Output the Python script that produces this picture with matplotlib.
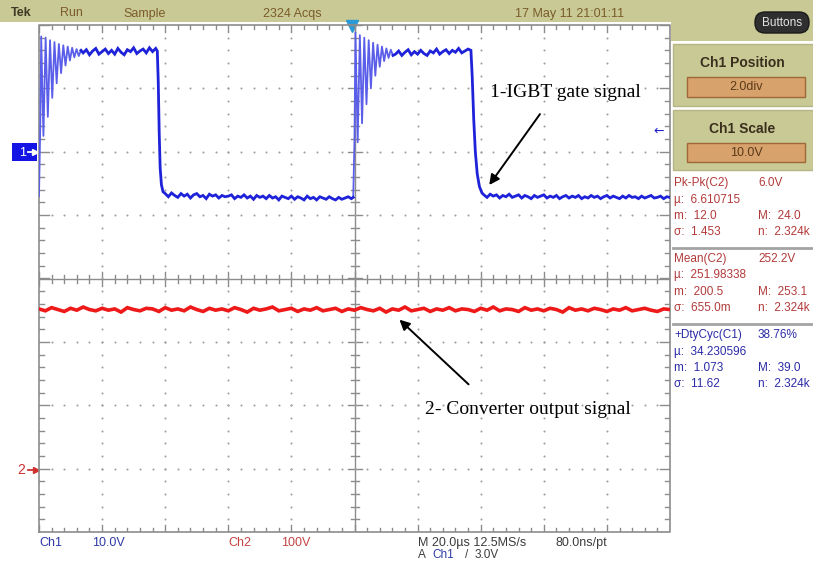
import numpy as np
import matplotlib
matplotlib.use('Agg')
import matplotlib.pyplot as plt
from matplotlib.patches import Rectangle, FancyBboxPatch

W, H = 813, 562

# ---------------- data (time in µs, voltages in V) ----------------
ch1_scale = 10.0   # V/div
ch1_pos = 2.0      # div
ch2_scale = 100.0  # V/div
ch2_pos = -3.0     # div

rise1_t = [-100.0, -99.6, -99.3, -98.6, -97.9, -97.2, -96.5, -95.8, -95.1, -94.4, -93.7,
           -93.0, -92.3, -91.6, -90.9, -90.2, -89.5, -88.8, -88.1, -87.4, -86.7]
rise1_v = [-7.0, 4.0, 18.2, 2.5, 18.0, 5.5, 17.6, 8.5, 17.3, 10.8, 17.0,
           12.4, 16.8, 13.6, 16.6, 14.4, 16.4, 14.9, 16.2, 15.1, 16.0]
high1_t0 = -86
high1_v = [15.6, 16.1, 15.3, 15.9, 16.3, 15.4, 15.8, 16.2, 15.5, 16.0, 15.4, 16.3,
           15.7, 15.3, 16.1, 15.8, 16.4, 15.5, 15.9, 16.2, 15.6, 16.4, 15.8, 16.3]
fall1_t = [-62.5, -62.2, -61.9, -61.6, -61.2, -60.7]
fall1_v = [15.9, 11.0, 3.0, -2.5, -5.2, -6.3]
low1_t0 = -60
low1_v = [-6.6, -7.1, -6.5, -6.9, -7.2, -6.6, -7.0, -6.7, -7.3, -6.8, -6.6, -7.1, -6.9, -7.4, -6.7, -7.0, -6.8, -7.3, -6.9, -7.1,
          -7.0, -6.8, -7.4, -7.0, -7.2, -6.8, -7.3, -7.0, -7.5, -6.9, -7.2, -7.0, -7.4, -6.9, -7.3, -7.1, -7.6, -7.0, -7.2, -7.4,
          -7.0, -7.5, -7.1, -7.3, -7.6, -7.0, -7.4, -7.2, -7.6, -7.1, -7.3, -7.5, -7.1, -7.4, -7.6, -7.2, -7.5, -7.3, -7.1, -7.4]
rise2_t = [-0.4, 0.0, 0.3, 1.0, 1.7, 2.4, 3.1, 3.8, 4.5, 5.2, 5.9, 6.6, 7.3, 8.0, 8.7, 9.4, 10.1, 10.8, 11.5, 12.2]
rise2_v = [-7.2, 2.0, 18.8, 1.5, 18.4, 4.5, 18.0, 7.5, 17.6, 10.0, 17.2, 12.0, 16.9, 13.4, 16.6, 14.3, 16.3, 14.8, 16.1, 15.2]
high2_t0 = 13
high2_v = [15.4, 15.9, 15.2, 15.7, 16.1, 15.3, 15.8, 15.4, 16.0, 15.5, 15.2, 15.9,
           15.6, 16.2, 15.4, 15.8, 16.1, 15.5, 16.0, 15.7, 16.3, 15.6, 15.9, 16.2]
fall2_t = [36.9, 37.3, 37.8, 38.3, 38.9, 39.6, 40.4]
fall2_v = [16.0, 12.0, 5.0, 0.0, -3.5, -5.5, -6.5]
low2_t0 = 41
low2_v = [-6.8, -7.2, -6.7, -7.0, -6.8, -7.3, -6.9, -7.1, -6.7, -7.2, -7.0, -6.8, -7.3, -6.9, -7.1, -7.4, -6.9, -7.2, -7.0, -6.8,
          -7.3, -7.0, -7.2, -6.9, -7.4, -7.1, -6.9, -7.3, -7.0, -7.2, -6.9, -7.4, -7.1, -7.3, -6.9, -7.2, -7.0, -7.4, -7.1, -6.9,
          -7.3, -7.0, -7.2, -7.4, -7.0, -7.3, -6.9, -7.2, -7.1, -7.4, -7.0, -7.3, -7.1, -6.9, -7.3, -7.2, -7.0, -7.4, -7.1, -7.2]

ch2_t0, ch2_dt = -100, 2
ch2_v = [252, 249, 254, 251, 248, 253, 250, 255, 251, 249, 253, 250, 252, 247, 254, 251, 249, 253, 252, 248,
         254, 250, 252, 249, 255, 251, 248, 253, 250, 252, 249, 254, 251, 247, 253, 250, 252, 255, 249, 251,
         253, 248, 252, 250, 254, 249, 251, 253, 248, 252, 250, 254, 251, 249, 253, 247, 252, 250, 255, 249,
         251, 253, 248, 252, 250, 254, 249, 252, 251, 248, 253, 250, 255, 249, 252, 251, 248, 254, 250, 252,
         249, 253, 251, 247, 254, 250, 252, 249, 253, 251, 248, 252, 250, 254, 249, 251, 253, 250, 248, 252, 251]

top_labels = [("Tek", 11), ("Run", 60), ("Sample", 123), ("2324 Acqs", 263)]
date_label = "17 May 11 21:01:11"
meas_groups = [
    ("#b23a3a", [("Pk-Pk(C2)", "6.0V"), ("µ:  6.610715", ""), ("m:  12.0", "M:  24.0"), ("σ:  1.453", "n:  2.324k")]),
    ("#b23a3a", [("Mean(C2)", "252.2V"), ("µ:  251.98338", ""), ("m:  200.5", "M:  253.1"), ("σ:  655.0m", "n:  2.324k")]),
    ("#2b2ba6", [("+DtyCyc(C1)", "38.76%"), ("µ:  34.230596", ""), ("m:  1.073", "M:  39.0"), ("σ:  11.62", "n:  2.324k")]),
]

# ---------------- assemble traces ----------------
def to_div(v):
    return ch1_pos + np.asarray(v, dtype=float) / ch1_scale

seg_high1_t = high1_t0 + np.arange(len(high1_v))
seg_low1_t = low1_t0 + np.arange(len(low1_v))
seg_high2_t = high2_t0 + np.arange(len(high2_v))
seg_low2_t = low2_t0 + np.arange(len(low2_v))

# dark (settled) parts of Ch1
dark1_t = np.concatenate([rise1_t[-1:], seg_high1_t, fall1_t, seg_low1_t, rise2_t[:1]])
dark1_v = np.concatenate([rise1_v[-1:], high1_v, fall1_v, low1_v, rise2_v[:1]])
dark2_t = np.concatenate([rise2_t[-1:], seg_high2_t, fall2_t, seg_low2_t])
dark2_v = np.concatenate([rise2_v[-1:], high2_v, fall2_v, low2_v])

ch2_t = ch2_t0 + ch2_dt * np.arange(len(ch2_v))
ch2_div = ch2_pos + np.array(ch2_v) / ch2_scale

# ---------------- figure ----------------
fig = plt.figure(figsize=(W / 100, H / 100), dpi=100)
fig.patch.set_facecolor('white')
SANS = 'Liberation Sans'

bg = fig.add_axes([0, 0, 1, 1], zorder=0)
bg.set_xlim(0, W); bg.set_ylim(H, 0); bg.axis('off')

khaki = '#c9c995'
bg.add_patch(Rectangle((0, 0), W, 22, color=khaki, lw=0))
bg.add_patch(Rectangle((671, 0), W - 671, 41, color=khaki, lw=0))
bg.add_patch(Rectangle((673, 44), W - 673, 62, facecolor=khaki, edgecolor='#b5b585', lw=1))
bg.add_patch(Rectangle((673, 110), W - 673, 60, facecolor=khaki, edgecolor='#b5b585', lw=1))
bg.add_patch(Rectangle((687, 77), 118, 20, facecolor='#d8a26d', edgecolor='#a06838', lw=1))
bg.add_patch(Rectangle((687, 143), 118, 19, facecolor='#d8a26d', edgecolor='#a06838', lw=1))
bg.text(742, 63, "Ch1 Position", ha='center', va='center', fontsize=10, fontweight='bold',
        color='#3b2f1e', family=SANS)
bg.text(746, 87, "2.0div", ha='center', va='center', fontsize=9, color='#5a3a18', family=SANS)
bg.text(742, 129, "Ch1 Scale", ha='center', va='center', fontsize=10, fontweight='bold',
        color='#3b2f1e', family=SANS)
bg.text(746, 153, "10.0V", ha='center', va='center', fontsize=9, color='#5a3a18', family=SANS)

bg.add_patch(FancyBboxPatch((755, 12), 54, 21, boxstyle='round,pad=0,rounding_size=10',
                            facecolor='#2f2f2f', edgecolor='#1a1a1a', lw=1))
bg.text(782, 23, "Buttons", ha='center', va='center', fontsize=8.5, color='#e6e6e6', family=SANS)

# top status bar
for txt, x in top_labels:
    bold = txt == "Tek"
    bg.text(x, 13.5, txt, ha='left', va='center', fontsize=9,
            fontweight='bold' if bold else 'normal',
            color='#3e3a25' if bold else '#7a5c2a', family=SANS)
bg.text(515, 13.5, date_label, ha='left', va='center', fontsize=9, color='#7a5c2a', family=SANS)

# measurement panel
bg.plot([673, W], [248, 248], color='#a3a3a3', lw=2)
bg.plot([673, W], [324, 324], color='#a3a3a3', lw=2)
ys_groups = [[183, 200, 216, 232], [259, 275, 292, 308], [335, 352, 368, 384]]
for (col, rows), ys in zip(meas_groups, ys_groups):
    for (lt, rt), y in zip(rows, ys):
        bg.text(674, y, lt, ha='left', va='center', fontsize=8.5, color=col, family=SANS)
        if rt:
            bg.text(758, y, rt, ha='left', va='center', fontsize=8.5, color=col, family=SANS)

# bottom status
yb1, yb2 = 543, 549
bg.text(39, yb1, "Ch1", ha='left', va='center', fontsize=9, color='#2f3aa6', family=SANS)
bg.text(92, yb1, "10.0V", ha='left', va='center', fontsize=9, color='#2f3aa6', family=SANS)
bg.text(228, yb1, "Ch2", ha='left', va='center', fontsize=9, color='#c44444', family=SANS)
bg.text(281, yb1, "100V", ha='left', va='center', fontsize=9, color='#c44444', family=SANS)
bg.text(418, yb1, "M 20.0µs 12.5MS/s", ha='left', va='center', fontsize=9, color='#3c3c3c', family=SANS)
bg.text(555, yb1, "80.0ns/pt", ha='left', va='center', fontsize=9, color='#3c3c3c', family=SANS)
bg.text(418, yb2, "A", ha='left', va='top', fontsize=8.5, color='#3c3c3c', family=SANS)
bg.text(432, yb2, "Ch1", ha='left', va='top', fontsize=8.5, color='#2f3aa6', family=SANS)
bg.text(465, yb2, "/", ha='left', va='top', fontsize=8.5, color='#3c3c3c', family=SANS)
bg.text(475, yb2, "3.0V", ha='left', va='top', fontsize=8.5, color='#3c3c3c', family=SANS)

# channel markers
bg.add_patch(Rectangle((12, 143), 25, 18, color='#1414e4', lw=0))
bg.text(19, 152.5, "1", ha='left', va='center', fontsize=9, color='white', family=SANS)
bg.plot([28, 35], [152, 152], color='white', lw=1.3)
bg.plot([35], [152], marker='>', ms=4, color='white')
bg.text(17, 470, "2", ha='left', va='center', fontsize=10, color='#d03030', family=SANS)
bg.plot([28, 35], [470, 470], color='#d03030', lw=1.3)
bg.plot([36], [470], marker='>', ms=4, color='#d03030')
bg.text(659, 131, "←", ha='center', va='center', fontsize=9, color='#2020d0', family='DejaVu Sans')
bg.plot([352], [26], marker='v', ms=8, color='#2a9ad6', zorder=5)

# ---------------- graticule ----------------
ax = fig.add_axes([39 / W, 1 - 532 / H, (670 - 39) / W, (532 - 25) / H], zorder=1)
ax.set_xlim(-100, 100); ax.set_ylim(-4, 4); ax.axis('off')
pxx = 200 / 631.0
pxy = 8 / 507.0
gcol = '#8c8c8c'
ax.plot([-100, 100, 100, -100, -100], [-4, -4, 4, 4, -4], color=gcol, lw=1.2, clip_on=False)
ax.axhline(0, color=gcol, lw=1)
ax.axvline(0, color=gcol, lw=1)

xt = np.arange(-100, 100.01, 4)
yt = np.arange(-4, 4.001, 0.2)
for x in xt:
    major = abs(round(x) % 20) == 0
    L = (7 if major else 4) * pxy
    ax.plot([x, x], [4, 4 - L], color=gcol, lw=1)
    ax.plot([x, x], [-4, -4 + L], color=gcol, lw=1)
    ax.plot([x, x], [-4 * pxy, 4 * pxy] if not major else [-7 * pxy, 7 * pxy], color=gcol, lw=1)
for y in yt:
    major = abs(round(y * 5) % 5) == 0
    L = (10 if major else 5) * pxx
    ax.plot([-100, -100 + L], [y, y], color=gcol, lw=1)
    ax.plot([100, 100 - L], [y, y], color=gcol, lw=1)
    ax.plot([-4 * pxx, 4 * pxx] if not major else [-7 * pxx, 7 * pxx], [y, y], color=gcol, lw=1)

dot_x, dot_y = [], []
for k in [-3, -2, -1, 1, 2, 3]:
    for x in xt[1:-1]:
        dot_x.append(x); dot_y.append(k)
for k in [-80, -60, -40, -20, 20, 40, 60, 80]:
    for y in yt[1:-1]:
        dot_x.append(k); dot_y.append(y)
ax.scatter(dot_x, dot_y, s=2.2, color='#a0a0a0', linewidths=0, zorder=2)

# traces
ax.plot(ch2_t, ch2_div, color='#ee1a1a', lw=2.6, zorder=4, solid_joinstyle='miter')
blue = '#1e22d8'
ring = '#5a5ee8'
ax.plot(rise1_t, to_div(rise1_v), color=ring, lw=1.3, zorder=5)
ax.plot(rise2_t, to_div(rise2_v), color=ring, lw=1.3, zorder=5)
ax.plot(dark1_t, to_div(dark1_v), color=blue, lw=2.0, zorder=5, solid_joinstyle='miter')
ax.plot(dark2_t, to_div(dark2_v), color=blue, lw=2.0, zorder=5, solid_joinstyle='miter')

# annotations
SERIF = 'Liberation Serif'
ax.annotate("", xy=(42.2, 1.44), xytext=(59.3, 2.63),
            arrowprops=dict(arrowstyle='-|>', color='black', lw=1.4, mutation_scale=15), zorder=8)
ax.text(43.1, 2.93, "1-IGBT gate signal", ha='left', va='center', fontsize=14,
        family=SERIF, color='black', zorder=8)
ax.annotate("", xy=(13.6, -0.62), xytext=(36.8, -1.70),
            arrowprops=dict(arrowstyle='-|>', color='black', lw=1.4, mutation_scale=15), zorder=8)
ax.text(22.5, -2.07, "2- Converter output signal", ha='left', va='center', fontsize=14,
        family=SERIF, color='black', zorder=8)

fig.savefig('out.png', dpi=100)
